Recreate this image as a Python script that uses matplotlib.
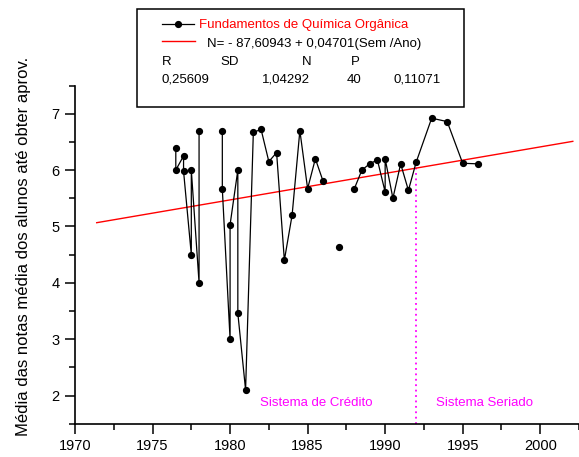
import numpy as np
import matplotlib
matplotlib.use("Agg")
import matplotlib.pyplot as plt
from matplotlib.patches import Rectangle
from matplotlib.lines import Line2D

plt.rcParams['font.family'] = ['Liberation Sans', 'DejaVu Sans']

# semestre/ano e media das notas (nan = semestre sem dado, quebra a linha)
sem_ano = [1976.5, 1976.5, 1977, 1977, 1977.5, 1977.5, 1978, 1978, np.nan,
           1979.5, 1979.5, 1980, 1980, 1980.5, 1980.5, 1981, 1981.5, 1982,
           1982.5, 1983, 1983.5, 1984, 1984.5, 1985, 1985.5, 1986, np.nan,
           1987, np.nan,
           1988, 1988.5, 1989, 1989.5, 1990, 1990, 1990.5, 1991, 1991.5,
           1992, 1993, 1994, 1995, 1996]
media = [6.40, 6.00, 6.25, 5.98, 4.50, 6.00, 4.00, 6.70, np.nan,
         6.70, 5.66, 3.00, 5.03, 6.00, 3.46, 2.10, 6.67, 6.72,
         6.15, 6.31, 4.40, 5.20, 6.70, 5.67, 6.20, 5.80, np.nan,
         4.63, np.nan,
         5.66, 6.00, 6.11, 6.18, 5.61, 6.20, 5.50, 6.11, 5.64,
         6.14, 6.92, 6.86, 6.12, 6.11]

# regressao linear
a, b = -87.60943, 0.04701
R, SD, N, P = "0,25609", "1,04292", "40", "0,11071"
reg_x = [1971.4, 2002.1]

ano_mudanca = 1992

fig = plt.figure(figsize=(5.79, 4.57), dpi=100)
ax = fig.add_axes([75 / 579, 1 - 423.7 / 457, 1 - 75 / 579, 338.2 / 457])

reg_y = [a + b * x for x in reg_x]
ax.plot(reg_x, reg_y, color='#ff0000', lw=1.0, zorder=2)
ax.plot(sem_ano, media, color='black', lw=0.9, marker='o', ms=4.2,
        zorder=3)

# separacao entre os dois sistemas
y_mud = media[sem_ano.index(ano_mudanca)]
ax.plot([ano_mudanca, ano_mudanca], [1.5, y_mud], color='#ff00ff', lw=1.3,
        linestyle=(0, (1, 2)), zorder=1)
ax.text(1981.9, 1.87, "Sistema de Crédito", color='#ff00ff', fontsize=9.5,
        va='center', ha='left')
ax.text(1993.3, 1.87, "Sistema Seriado", color='#ff00ff', fontsize=9.5,
        va='center', ha='left')

ax.set_xlim(1970, 1970 + 504 / 15.55)
ax.set_ylim(1.5, 7.5)
ax.set_xticks(np.arange(1970, 2001, 5))
ax.set_xticks(np.arange(1970, 2003, 2.5), minor=True)
ax.set_yticks(np.arange(2, 8, 1))
ax.set_yticks(np.arange(1.5, 7.6, 0.5), minor=True)
ax.tick_params(which='major', direction='out', length=7, width=1.1,
               labelsize=10.5, pad=4)
ax.tick_params(which='minor', direction='out', length=4, width=1.1)
ax.spines['top'].set_visible(False)
ax.spines['right'].set_visible(False)
ax.spines['left'].set_linewidth(1.2)
ax.spines['bottom'].set_linewidth(1.2)
ax.patch.set_alpha(0)

fig.text(24 / 579, 1 - 246.5 / 457,
         "Média das notas média dos alunos até obter aprov.",
         rotation=90, fontsize=12, ha='center', va='center')

# caixa da legenda
def fx(px):
    return px / 579

def fy(py):
    return 1 - py / 457

fig.patches.append(Rectangle((fx(137), fy(107)), fx(464) - fx(137),
                             fy(9.3) - fy(107), transform=fig.transFigure,
                             fill=False, edgecolor='black', lw=1.1))
fig.lines.append(Line2D([fx(162), fx(194)], [fy(24), fy(24)],
                        transform=fig.transFigure, color='black', lw=0.9))
fig.lines.append(Line2D([fx(178)], [fy(24)], transform=fig.transFigure,
                        color='black', marker='o', ms=4.2, lw=0))
fig.text(fx(199), fy(28.3), "Fundamentos de Química Orgânica",
         color='#ff0000', fontsize=9.5, va='baseline')
fig.lines.append(Line2D([fx(162), fx(195)], [fy(41.3), fy(41.3)],
                        transform=fig.transFigure, color='#ff0000', lw=1.0))
fig.text(fx(207), fy(46.7), "N= - 87,60943 + 0,04701(Sem /Ano)",
         fontsize=9.5, va='baseline')
for txt, px in [("R", 162), ("SD", 220), ("N", 302), ("P", 351)]:
    fig.text(fx(px), fy(65), txt, fontsize=9.5, va='baseline')
for txt, px in [(R, 162), (SD, 262), (N, 347), (P, 394)]:
    fig.text(fx(px), fy(83), txt, fontsize=9.5, va='baseline')

fig.savefig("out.png", dpi=100)
